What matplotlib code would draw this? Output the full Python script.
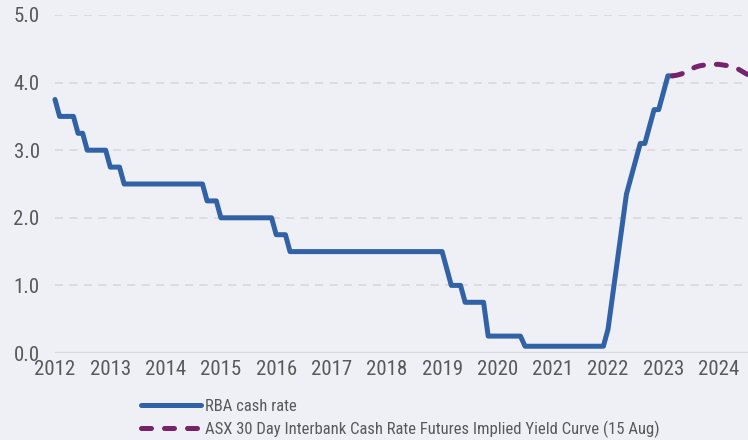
import matplotlib
matplotlib.use("Agg")
import matplotlib.pyplot as plt
import numpy as np

plt.rcParams['font.family'] = ['Roboto Condensed', 'DejaVu Sans']

# RBA cash rate, monthly from May 2012 to Jul 2023 (%)
cash_start = (2012, 5)
cash_rate = (
    [3.75, 3.50, 3.50, 3.50, 3.50, 3.25, 3.25, 3.00]                      # 2012 May-Dec
    + [3.00, 3.00, 3.00, 3.00, 2.75, 2.75, 2.75, 2.50, 2.50, 2.50, 2.50, 2.50]  # 2013
    + [2.50] * 12                                                          # 2014
    + [2.50, 2.25, 2.25, 2.25] + [2.00] * 8                                # 2015
    + [2.00] * 4 + [1.75, 1.75, 1.75] + [1.50] * 5                         # 2016
    + [1.50] * 12                                                          # 2017
    + [1.50] * 12                                                          # 2018
    + [1.50] * 5 + [1.25, 1.00, 1.00, 1.00, 0.75, 0.75, 0.75]              # 2019
    + [0.75, 0.75] + [0.25] * 8 + [0.10, 0.10]                             # 2020
    + [0.10] * 12                                                          # 2021
    + [0.10] * 4 + [0.35, 0.85, 1.35, 1.85, 2.35, 2.60, 2.85, 3.10]        # 2022
    + [3.10, 3.35, 3.60, 3.60, 3.85, 4.10, 4.10]                           # 2023 Jan-Jul
)

# ASX implied yield curve (15 Aug), monthly from Jul 2023 (%)
futures_start = (2023, 7)
futures = [4.10, 4.11, 4.13, 4.16, 4.20, 4.23, 4.25, 4.26, 4.27, 4.27, 4.27,
           4.26, 4.25, 4.24, 4.21, 4.17, 4.13, 4.09]

years = list(range(2012, 2025))
labels = ['RBA cash rate',
          'ASX 30 Day Interbank Cash Rate Futures Implied Yield Curve (15 Aug)']


def month_axis(start, n):
    y0, m0 = start
    return y0 + (m0 - 1) / 12 + np.arange(n) / 12


blue = '#3262a6'
purple = '#76236b'
bg = '#eff0f5'

fig = plt.figure(figsize=(7.48, 4.40), dpi=100, facecolor=bg)
ax = fig.add_axes([55 / 748, 87 / 440, 693 / 748, 338 / 440], facecolor=bg)

x_cash = month_axis(cash_start, len(cash_rate))
x_fut = month_axis(futures_start, len(futures))

ax.plot(x_cash, cash_rate, color=blue, lw=3.6, solid_capstyle='round',
        solid_joinstyle='round', label=labels[0], zorder=3, clip_on=False)
ax.plot(x_fut, futures, color=purple, lw=3.6, dashes=(2.0, 2.6),
        dash_capstyle='round', label=labels[1], zorder=3)

ax.set_xlim(2012 + 4 / 12, 2012 + 4 / 12 + 693 / 55.3)
ax.set_ylim(0, 5)
ax.set_xticks([y + 4 / 12 for y in years])
ax.set_xticklabels([str(y) for y in years])
ax.set_yticks(np.arange(0, 5.1, 1))
ax.set_yticklabels([f'{v:.1f}' for v in np.arange(0, 5.1, 1)])

for v in range(1, 6):
    ax.axhline(v, color='#dadada', lw=1.3, dashes=(4.5, 3.5), zorder=1)
ax.axhline(0, color='#d9d9d9', lw=1.6, zorder=1)

for s in ax.spines.values():
    s.set_visible(False)
ax.tick_params(length=0, labelsize=15, colors='#595959')
ax.tick_params(axis='x', pad=5)
ax.tick_params(axis='y', pad=11)

leg = fig.legend(loc='upper left', bbox_to_anchor=(141 / 748, 1 - 399 / 440),
                 frameon=False, fontsize=12, handlelength=3.6,
                 handletextpad=0.25, labelspacing=0.4, borderpad=0,
                 borderaxespad=0)
for t in leg.get_texts():
    t.set_color('#595959')

fig.savefig('out.png', dpi=100, facecolor=bg)
